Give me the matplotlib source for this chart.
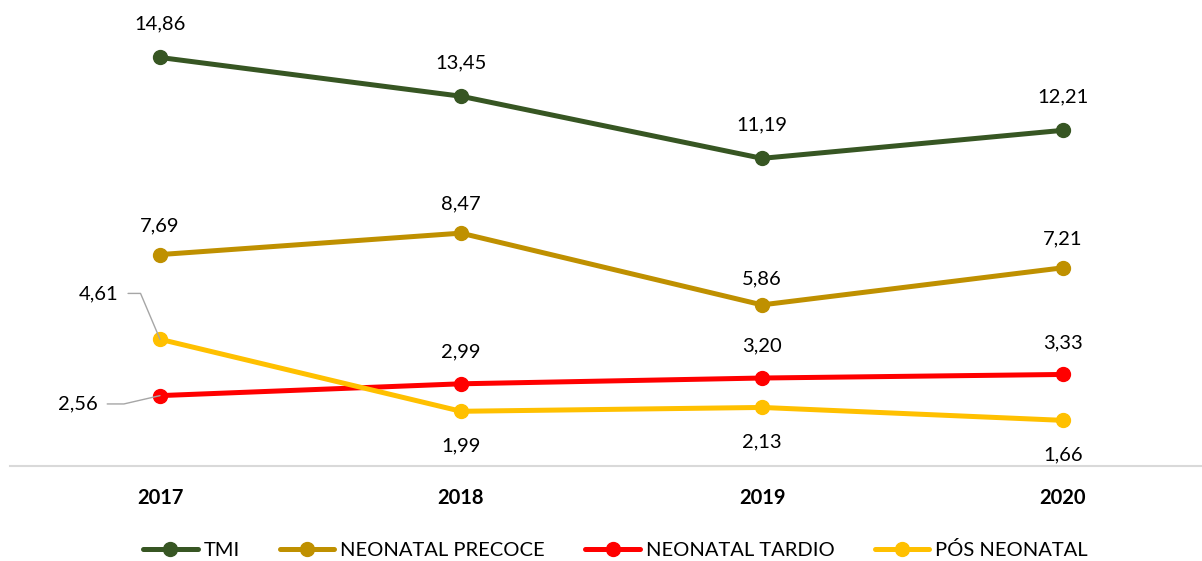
import matplotlib
matplotlib.use("Agg")
import matplotlib.pyplot as plt

years = ["2017", "2018", "2019", "2020"]
tmi = [14.86, 13.45, 11.19, 12.21]
precoce = [7.69, 8.47, 5.86, 7.21]
tardio = [2.56, 2.99, 3.20, 3.33]
pos = [4.61, 1.99, 2.13, 1.66]

series_names = ["TMI", "NEONATAL PRECOCE", "NEONATAL TARDIO", "PÓS NEONATAL"]
colors = ["#375623", "#BF9000", "#FF0000", "#FFC000"]

plt.rcParams["font.family"] = ["Lato", "DejaVu Sans"]
FS = 14.5

W, H = 1202, 561
fig = plt.figure(figsize=(W / 100, H / 100), dpi=100)
# plot area in pixel terms: x from 9.5 to 1213.5, y from 0 to 466
ax = fig.add_axes([9.5 / W, (H - 466) / H, 1204 / W, 466 / H])
ax.set_xlim(-0.5, 3.5)
ax.set_ylim(0, 16.95)

x = list(range(len(years)))
for vals, name, c in zip([tmi, precoce, tardio, pos], series_names, colors):
    ax.plot(x, vals, color=c, lw=3.6, marker="o", ms=10, label=name,
            solid_capstyle="round", clip_on=False, zorder=3)


def fmt(v):
    return f"{v:.2f}".replace(".", ",")


def label(xi, v, dy):
    ax.annotate(fmt(v), (xi, v), xytext=(0, dy), textcoords="offset points",
                ha="center", va="center", fontsize=FS, color="#000000")


for i, v in enumerate(tmi):
    label(i, v, 24)
for i, v in enumerate(precoce):
    label(i, v, 21 if i != 2 else 19)
for i, v in enumerate(tardio):
    if i > 0:
        label(i, v, 23)
for i, v in enumerate(pos):
    if i > 0:
        label(i, v, -25)

# leader-line labels for 2017
lead = "#A6A6A6"
ax.annotate(fmt(pos[0]), (0, pos[0]), xytext=(-30, 33), textcoords="offset points",
            ha="right", va="center", fontsize=FS,
            arrowprops=dict(arrowstyle="-", color=lead, lw=1,
                            connectionstyle="angle,angleA=0,angleB=113,rad=0",
                            shrinkA=5, shrinkB=0))
ax.annotate(fmt(tardio[0]), (0, tardio[0]), xytext=(-45, -6), textcoords="offset points",
            ha="right", va="center", fontsize=FS,
            arrowprops=dict(arrowstyle="-", color=lead, lw=1,
                            connectionstyle="angle,angleA=0,angleB=13,rad=0",
                            shrinkA=5, shrinkB=0))

for s in ["top", "right", "left"]:
    ax.spines[s].set_visible(False)
ax.spines["bottom"].set_color("#D9D9D9")
ax.spines["bottom"].set_linewidth(1.5)
ax.set_yticks([])
ax.set_xticks(x)
ax.set_xticklabels(years, fontsize=FS, fontweight="bold")
ax.tick_params(axis="x", length=0, pad=16)

fig.legend(loc="center", bbox_to_anchor=(615.5 / W, (H - 550) / H), ncol=4, frameon=False,
           fontsize=FS, handlelength=2.7, columnspacing=2.0, handletextpad=0.3,
           borderpad=0, borderaxespad=0)

fig.savefig("out.png", dpi=100)
